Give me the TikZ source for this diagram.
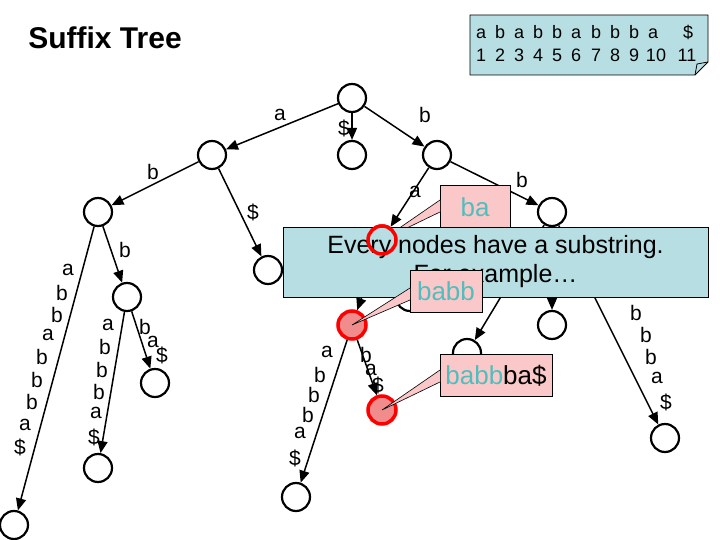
\documentclass[tikz,border=0pt]{standalone}
\usepackage{fontspec}
\setmainfont{Liberation Sans}
\usetikzlibrary{arrows.meta}
\definecolor{nodered}{RGB}{240,140,140}
\definecolor{callfill}{RGB}{250,200,200}
\definecolor{notefill}{RGB}{183,222,226}
\definecolor{teal}{RGB}{80,190,190}
\begin{document}
\begin{tikzpicture}[x=1pt,y=-1pt]
        %======estilos==========%
            \tikzstyle{vertex}=[circle,draw,line width=2.2pt,minimum size=28pt,inner sep=0pt]
            \tikzstyle{vertex_sel}=[vertex,draw=red,fill=nodered,line width=3.5pt]
            \tikzstyle{edge}=[-{Triangle[length=12pt,width=10pt]},line width=1.5pt]
            \tikzstyle{lbl}=[inner sep=0pt,font=\fontsize{21}{21}\selectfont]
            \tikzstyle{head}=[inner sep=0pt,anchor=base,font=\fontsize{18}{18}\selectfont]
            \tikzstyle{callout}=[draw,fill=callfill,line width=0.6pt]
            \tikzstyle{big}=[inner sep=0pt,font=\fontsize{26}{26}\selectfont]
        %====================%
            \useasboundingbox (0,0) rectangle (720,540);
            \node[font=\bfseries\fontsize{30}{30}\selectfont] (title) at (105,38) {Suffix Tree};
            \draw[fill=notefill,line width=0.8pt] (470,15) -- (708,15) -- (708,62) -- (695,75) -- (470,75) -- cycle;
            \draw[line width=0.8pt] (695,75) -- (697,64) -- (708,62);
            \foreach \t/\x in {a/481,b/500,a/519,b/538,b/557,a/576,b/596,b/615,b/634,a/653,\$/688}
                \node[head] at (\x,39) {\t};
            \foreach \t/\x in {1/481,2/500,3/519,4/538,5/557,6/576,7/596,8/615,9/634,10/656,11/687}
                \node[head] at (\x,62) {\t};

            \node[vertex](R) at (352,98) {};
            \node[vertex](A) at (212,155) {};
            \node[vertex](D) at (352,155) {};
            \node[vertex](B) at (437,155) {};
            \node[vertex](AB) at (98,212) {};
            \node[vertex](AD) at (268,270) {};
            \node[vertex](ABL) at (14,525) {};
            \node[vertex](ABB) at (127,297) {};
            \node[vertex](ABBa) at (98,468) {};
            \node[vertex](ABBb) at (155,383) {};
            \node[vertex_sel](BA) at (382,240) {};
            \node[vertex](BB) at (552,212) {};
            \node[vertex](BAD) at (410,297) {};
            \node[vertex_sel](BAB) at (352,325) {};
            \node[vertex](BABa) at (296,497) {};
            \node[vertex_sel](BABb) at (382,410) {};
            \node[vertex](BBa) at (467,353) {};
            \node[vertex](BBb) at (552,325) {};
            \node[vertex](BBL) at (665,438) {};

            \draw[edge](R) -- (A);
            \draw[edge](R) -- (D);
            \draw[edge](R) -- (B);
            \draw[edge](A) -- (AB);
            \draw[edge](A) -- (AD);
            \draw[edge](AB) -- (ABL);
            \draw[edge](AB) -- (ABB);
            \draw[edge](ABB) -- (ABBa);
            \draw[edge](ABB) -- (ABBb);
            \draw[edge](B) -- (BA);
            \draw[edge](B) -- (BB);
            \draw[edge](BA) -- (BAD);
            \draw[edge](BA) -- (BAB);
            \draw[edge](BAB) -- (BABa);
            \draw[edge](BAB) -- (BABb);
            \draw[edge](BB) -- (BBa);
            \draw[edge](BB) -- (BBb);
            \draw[edge](BB) -- (BBL);

            % letras das arestas
            \foreach \t/\x/\y in {a/280/115, \$/344/128, b/425/115, b/153/172, \$/253/212,
                a/68/270, b/62/293, b/57/315, a/48/335, b/42/357, b/37/380, b/32/402, a/25/425, \$/20/447,
                b/125/250, a/108/325, b/105/347, b/102/370, b/99/392, a/96/413, \$/94/437,
                b/145/327, a/153/342, \$/162/355, a/415/192, b/522/180,
                a/327/352, b/320/375, b/314/395, b/308/415, a/300/433, \$/295/458,
                b/366/355, a/371/370, \$/378/385,
                b/636/313, b/646/335, b/651/357, a/657/378, \$/666/402}
                \node[lbl] at (\x,\y) {\t};

            % caixas
            \draw[callout] (440,185) rectangle (510,230);
            \fill[callfill] (440,200) -- (382,240) -- (440,212) -- cycle;
            \draw[line width=0.6pt] (440,200) -- (382,240) -- (440,212);
            \node[big,text=teal] (cba) at (475,207) {ba};
            \node[draw,fill=notefill,line width=0.8pt,minimum width=425pt,minimum height=70pt,align=center,
                  font=\fontsize{25}{29}\selectfont] (note) at (495.5,262) {Every nodes have a substring.\\For example\dots};
            \node[vertex_sel,fill=none] (BAtop) at (BA) {};
            \draw[callout] (410,270) rectangle (482,312);
            \fill[callfill] (410,288) -- (352,325) -- (410,300) -- cycle;
            \draw[line width=0.6pt] (410,288) -- (352,325) -- (410,300);
            \node[big,text=teal] (cbabb) at (446,291) {babb};
            \draw[callout] (440,354) rectangle (552,396);
            \fill[callfill] (440,370) -- (382,410) -- (440,382) -- cycle;
            \draw[line width=0.6pt] (440,370) -- (382,410) -- (440,382);
            \node[big] (cfull) at (496,376) {\textcolor{teal}{babb}ba\$};
        \end{tikzpicture}
\end{document}
